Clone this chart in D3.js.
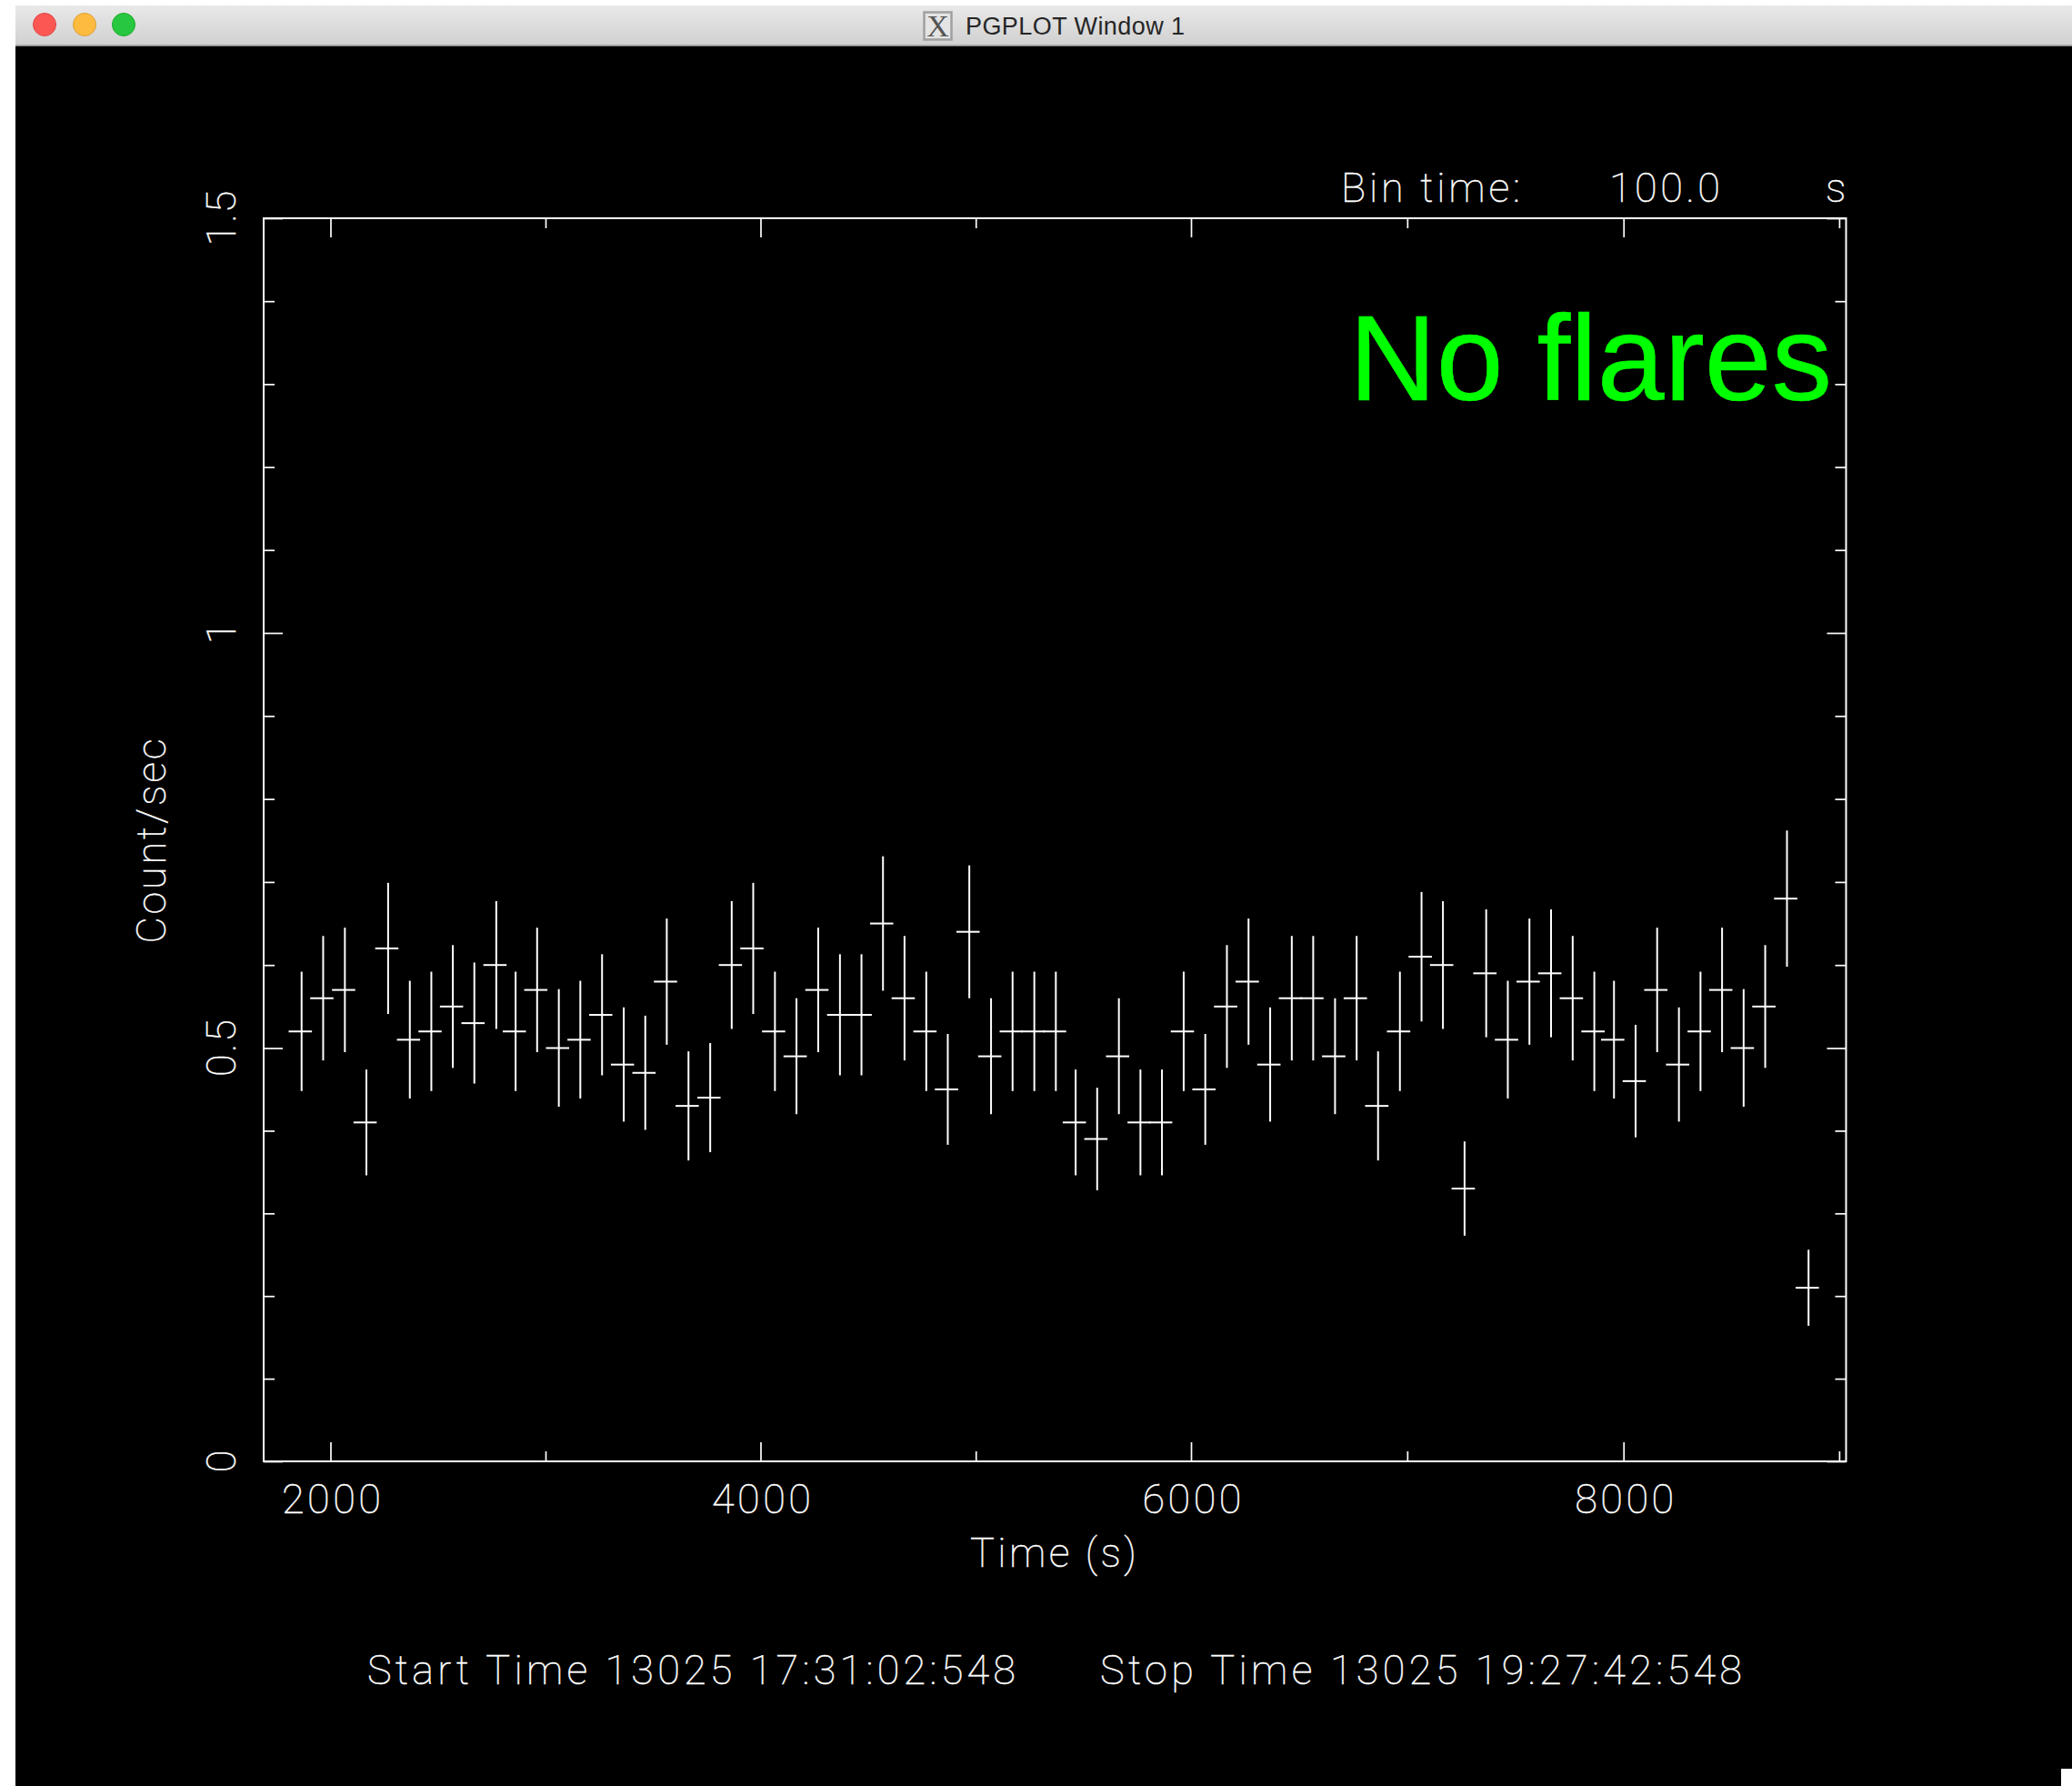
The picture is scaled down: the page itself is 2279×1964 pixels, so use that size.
<!DOCTYPE html>
<html>
<head>
<meta charset="utf-8">
<title>PGPLOT Window 1</title>
<script src="https://cdn.jsdelivr.net/npm/d3@7/dist/d3.min.js"></script>
<style>
html,body{margin:0;padding:0;background:#000;}
svg{display:block;}
.hershey{font-family:"Roboto","Liberation Sans",sans-serif;font-weight:100;fill:#fff;stroke:#fff;stroke-width:.5px;}
</style>
</head>
<body>
<svg id="chart" width="2279" height="1964"></svg>
<script>
// ---- data ----
const times = [1866,1966,2067,2167,2268,2369,2469,2569,2669,2771,
  2861,2961,3062,3162,3263,3364,3464,3564,3665,3766,3866,3966,4067,4167,4268,4369,4469,4569,4669,4770,4870,4970,5071,5171,5272,5372,
  5464,5564,5665,5765,5865,5966,6066,6166,6266,6366,6466,6565,6666,6766,6865,6966,7066,7165,7265,7365,7465,7565,7665,7765,7865,
  7956,8056,8156,8257,8357,8457,8557,8657,8758,8858];
const rates = [.52,.56,.57,.41,.62,.51,.52,.55,.53,.60,
  .52,.57,.50,.51,.54,.48,.47,.58,.43,.44,.60,.62,.52,.49,.57,.54,.54,.65,.56,.52,.45,.64,.49,.52,.52,.52,
  .41,.39,.49,.41,.41,.52,.45,.55,.58,.48,.56,.56,.49,.56,.43,.52,.61,.60,.33,.59,.51,.58,.59,.56,.52,
  .51,.46,.57,.48,.52,.57,.50,.55,.68,.21];
const errors = [.072,.075,.075,.064,.079,.071,.072,.074,.073,.077,
  .072,.075,.071,.071,.073,.069,.069,.076,.066,.066,.077,.079,.072,.070,.075,.073,.073,.081,.075,.072,.067,.080,.070,.072,.072,.072,
  .064,.062,.070,.064,.064,.072,.067,.074,.076,.069,.075,.075,.070,.075,.066,.072,.078,.077,.057,.077,.071,.076,.077,.075,.072,
  .071,.068,.075,.069,.072,.075,.071,.074,.082,.046];
const binLeft = 60, binRight = 48;            // horizontal extent of each cross, seconds

const xMajor = [2000,4000,6000,8000];
const xMinor = [3000,5000,7000,9000];
const xLabels = ["2000","4000","6000","8000"];
const yMajor = [0,0.5,1,1.5];
const yMinor = [0.1,0.2,0.3,0.4,0.6,0.7,0.8,0.9,1.1,1.2,1.3,1.4];
const yLabels = ["0","0.5","1","1.5"];

const windowTitle = "PGPLOT Window 1";
const xTitle = "Time (s)";
const yTitle = "Count/sec";
const annotation = "No flares";
const startText = "Start Time 13025 17:31:02:548";
const stopText = "Stop Time 13025 19:27:42:548";
const binText = ["Bin time:", "100.0", "s"];

// ---- layout ----
const L = 290, R = 2030.5, T = 240, B = 1607;
// the screenshot is very slightly non-uniform, so the scales are anchored at each major tick
const x = d3.scaleLinear().domain([1690,2000,4000,6000,8000,9032]).range([L,363.5,836.5,1310,1785.7,R]);
const y = d3.scaleLinear().domain([0,0.5,1,1.5]).range([B,1152.5,696,T]);
const svg = d3.select("#chart");

// window chrome
const defs = svg.append("defs");
const g = defs.append("linearGradient").attr("id","bar").attr("x1",0).attr("x2",0).attr("y1",0).attr("y2",1);
g.append("stop").attr("offset",0).attr("stop-color","#e9e9e9");
g.append("stop").attr("offset",1).attr("stop-color","#d0d0d0");

svg.append("rect").attr("width",2279).attr("height",1964).attr("fill","#000");
svg.append("rect").attr("width",2279).attr("height",6).attr("fill","#fff");
svg.append("rect").attr("width",17).attr("height",1964).attr("fill","#fff");
svg.append("rect").attr("x",2267).attr("y",1945).attr("width",12).attr("height",19).attr("fill","#fff");
svg.append("rect").attr("x",17).attr("y",6).attr("width",2262).attr("height",44).attr("fill","url(#bar)");
svg.append("rect").attr("x",17).attr("y",49.5).attr("width",2262).attr("height",1.5).attr("fill","#8c8c8c");
[[49,"#fc5753","#df4744"],[93,"#fdbc40","#de9f34"],[136,"#27c83f","#1aab29"]].forEach(([cx,f,s])=>{
  svg.append("circle").attr("cx",cx).attr("cy",27).attr("r",12.5).attr("fill",f).attr("stroke",s).attr("stroke-width",1);
});
const icon = svg.append("g").attr("transform","translate(1016,13)");
icon.append("rect").attr("x",.5).attr("y",.5).attr("width",30).attr("height",30).attr("fill","#e4e4e4").attr("stroke","#a0a0a0").attr("stroke-width",2.5);
icon.append("text").attr("x",15.5).attr("y",27).attr("text-anchor","middle")
  .attr("font-family","Liberation Serif").attr("font-size",34).attr("fill","#555").text("X");
svg.append("text").attr("x",1062).attr("y",38).attr("font-family","Liberation Sans").attr("font-size",27)
  .attr("textLength",241).attr("fill","#262626").text(windowTitle);

// frame
svg.append("rect").attr("x",L).attr("y",T).attr("width",R-L).attr("height",B-T)
  .attr("fill","none").attr("stroke","#fff").attr("stroke-width",2);

// axes: ticks on all four sides, through d3 axes
function axis(maker, scale, values, size, tx, ty){
  const a = svg.append("g").attr("transform",`translate(${tx},${ty})`)
    .call(maker(scale).tickValues(values).tickSizeInner(size).tickSizeOuter(0).tickFormat(""));
  a.select(".domain").remove();
  a.selectAll("line").attr("stroke","#fff").attr("stroke-width",1.7);
}
axis(d3.axisTop,    x, xMajor, 21, 0, B);
axis(d3.axisTop,    x, xMinor, 11, 0, B);
axis(d3.axisBottom, x, xMajor, 21, 0, T);
axis(d3.axisBottom, x, xMinor, 11, 0, T);
axis(d3.axisRight,  y, yMajor, 21, L, 0);
axis(d3.axisRight,  y, yMinor, 12, L, 0);
axis(d3.axisLeft,   y, yMajor, 21, R, 0);
axis(d3.axisLeft,   y, yMinor, 12, R, 0);

// error-bar crosses
const pts = d3.range(times.length).map(i=>({t:times[i],r:rates[i],e:errors[i]}));
const marks = svg.append("g").attr("stroke","#fff").attr("stroke-width",2);
marks.selectAll("line.v").data(pts).join("line").attr("class","v")
  .attr("x1",d=>x(d.t)).attr("x2",d=>x(d.t)).attr("y1",d=>y(d.r+d.e)).attr("y2",d=>y(d.r-d.e));
marks.selectAll("line.h").data(pts).join("line").attr("class","h")
  .attr("x1",d=>x(d.t-binLeft)).attr("x2",d=>x(d.t+binRight)).attr("y1",d=>y(d.r)).attr("y2",d=>y(d.r));

// thin labels
function label(str, px, py, len, anchor, size){
  return svg.append("text").attr("class","hershey").attr("x",px).attr("y",py)
    .attr("font-size",size||45).attr("text-anchor",anchor||"start")
    .attr("textLength",len).attr("xml:space","preserve").text(str);
}
xLabels.forEach((s,i)=>label(s, x(xMajor[i])+1, 1664, 109, "middle"));
label(xTitle, 1067, 1723, 183);
label(startText, 404, 1852, 713);
label(stopText, 1210, 1852, 706);
label(binText[0], 1475, 222, 197);
label(binText[1], 1770, 222, 122);
label(binText[2], 2008, 222, 19);

// rotated labels
function vlabel(str, px, py, len){
  svg.append("text").attr("class","hershey").attr("transform",`translate(${px},${py}) rotate(-90)`)
    .attr("font-size",45).attr("text-anchor","middle").attr("textLength",len).text(str);
}
yLabels.forEach((s,i)=>vlabel(s, 259, y(yMajor[i]), [21,63,21,61][i]));
vlabel(yTitle, 181.5, 925, 225);

// annotation
svg.append("text").attr("x",1484).attr("y",440).attr("font-family","Liberation Sans")
  .attr("font-size",133).attr("fill","#00ff00").attr("stroke","#00ff00").attr("stroke-width",.6)
  .attr("textLength",531).attr("lengthAdjust","spacingAndGlyphs").text(annotation);
</script>
</body>
</html>
